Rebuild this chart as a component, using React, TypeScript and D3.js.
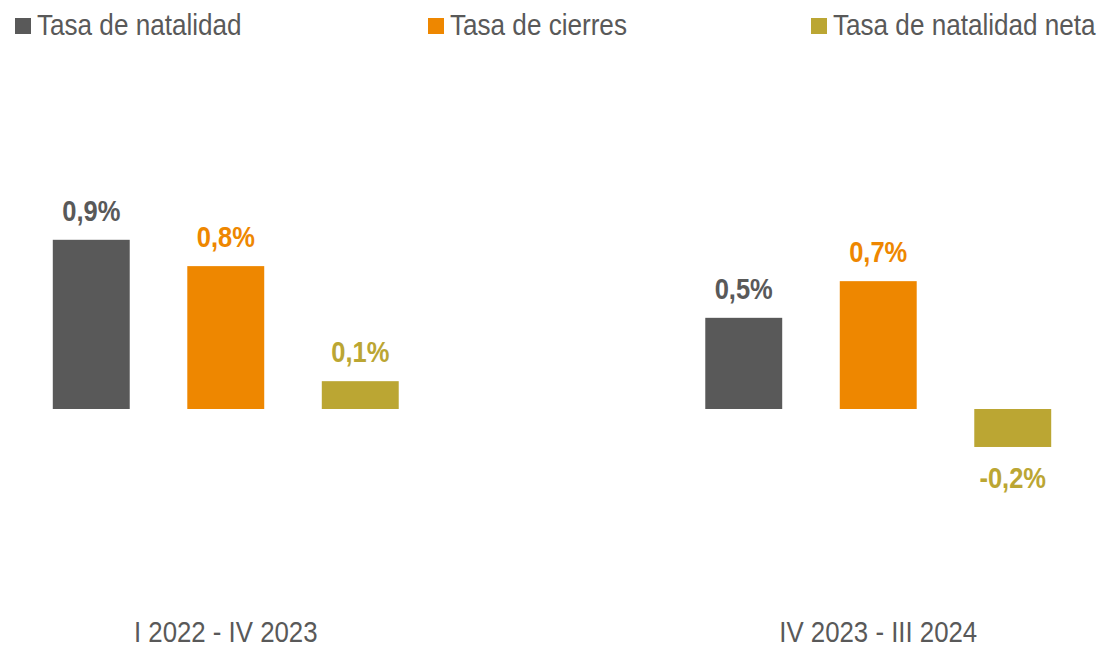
import React from 'react';
import * as d3 from 'd3';

// periods (x groups)
const periods = ['I 2022 - IV 2023', 'IV 2023 - III 2024'];
// series names
const seriesNames = ['Tasa de natalidad', 'Tasa de cierres', 'Tasa de natalidad neta'];
const seriesColors = ['#595959', '#EE8700', '#BBA633'];

// values in %, one array per series (period order)
const natalidad = [0.9, 0.485];
const cierres = [0.76, 0.68];
const natalidadNeta = [0.148, -0.202];

const seriesValues = [natalidad, cierres, natalidadNeta];

const W = 1104;
const H = 648;
const FONT = '"Liberation Sans", Arial, sans-serif';
const NARROW = 0.87; // the reference uses a condensed face

const fmt = (v: number) => d3.format('.1f')(v).replace('.', ',').replace('−', '-') + '%';

export default function App() {
  const x0 = d3.scalePoint<string>().domain(periods).range([0, W]).padding(0.346);
  const x1 = d3.scaleBand<string>()
    .domain(seriesNames)
    .range([-201.75, 201.75])
    .paddingInner(0.428)
    .paddingOuter(0.214);
  const y = d3.scaleLinear().domain([-0.6, 1.2]).range([521.8, 183.4]);

  // legend x positions for the squares
  const legendX = [15, 428, 811];

  return (
    <div style={{ position: 'absolute', left: 0, top: 0 }}>
      <svg width={W} height={H} style={{ display: 'block', background: '#fff' }}>
        {/* legend */}
        {seriesNames.map((s, i) => (
          <g key={s} transform={`translate(${legendX[i]},0)`}>
            <rect x={0} y={18} width={16} height={16} fill={seriesColors[i]} />
            <text transform={`translate(22,35) scale(${NARROW},1)`} fontFamily={FONT} fontSize={30} fill="#595959">{s}</text>
          </g>
        ))}

        {/* bars */}
        {periods.map((p, pi) => (
          <g key={p} transform={`translate(${x0(p)},0)`}>
            {seriesNames.map((s, si) => {
              const v = seriesValues[si][pi];
              const bx = x1(s)!;
              const top = y(Math.max(0, v));
              const bottom = y(Math.min(0, v));
              const ly = v >= 0 ? top - 19 : bottom + 41;
              return (
                <g key={s}>
                  <rect x={bx} y={top} width={x1.bandwidth()} height={bottom - top} fill={seriesColors[si]} />
                  <text
                    transform={`translate(${bx + x1.bandwidth() / 2},${ly}) scale(0.85,1)`}
                    textAnchor="middle"
                    fontFamily={FONT}
                    fontWeight="bold"
                    fontSize={30}
                    fill={seriesColors[si]}
                  >
                    {fmt(v)}
                  </text>
                </g>
              );
            })}
            <text transform={`translate(0,642) scale(0.89,1)`} textAnchor="middle" fontFamily={FONT} fontSize={29} fill="#595959">
              {p}
            </text>
          </g>
        ))}
      </svg>
    </div>
  );
}
